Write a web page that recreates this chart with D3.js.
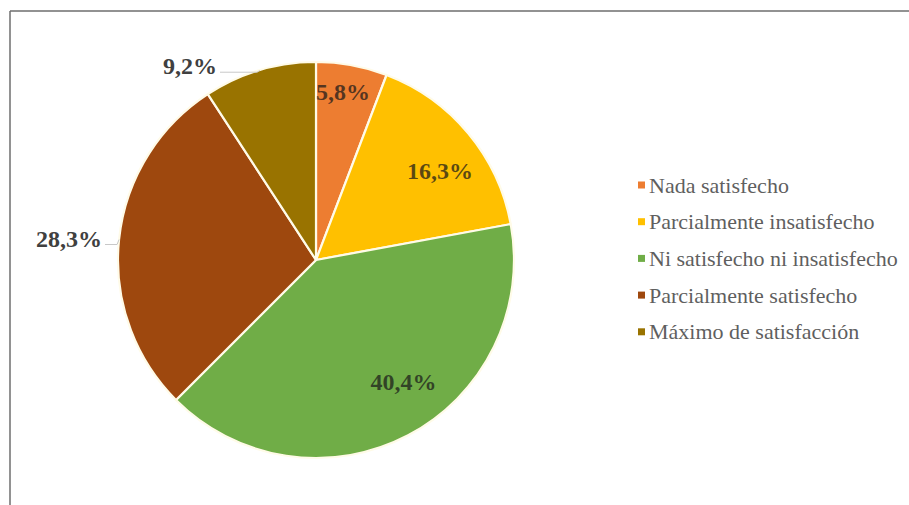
<!DOCTYPE html>
<html>
<head>
<meta charset="utf-8">
<script src="https://cdn.jsdelivr.net/npm/d3@7"></script>
<style>
  html, body { margin: 0; padding: 0; background: #fff; }
  svg { display: block; }
  text { font-family: "Liberation Serif", "Times New Roman", Times, serif; }
</style>
</head>
<body>
<svg id="chart" width="909" height="505"></svg>
<script>
// Satisfaction categories and their shares (%)
const categories = [
  "Nada satisfecho",
  "Parcialmente insatisfecho",
  "Ni satisfecho ni insatisfecho",
  "Parcialmente satisfecho",
  "Máximo de satisfacción"
];
const values = [5.8, 16.3, 40.4, 28.3, 9.2];
const valueLabels = ["5,8%", "16,3%", "40,4%", "28,3%", "9,2%"];
const colors = ["#ED7D31", "#FFC000", "#70AD47", "#9E480E", "#997300"];

// Label placement: radius for inner labels, or "outside" with leader line
const labelLayout = [
  { mode: "inside", r: 170, da: -1.3 },
  { mode: "inside", r: 153, da: 4 },
  { mode: "inside", r: 150, da: -8 },
  { mode: "outside", textX: 102, dy: 5 },
  { mode: "outside", textX: 217, dy: 2 }
];

const svg = d3.select("#chart");
const W = 909, H = 505;
const cx = 316, cy = 260, R = 198;

// Frame (top and left edges)
svg.append("line").attr("x1", 10).attr("y1", 11).attr("x2", W).attr("y2", 11)
  .attr("stroke", "#6e6e6e").attr("stroke-width", 1.5);
svg.append("line").attr("x1", 10).attr("y1", 11).attr("x2", 10).attr("y2", H)
  .attr("stroke", "#6e6e6e").attr("stroke-width", 1.5);

const data = categories.map((c, i) => ({ cat: c, value: values[i], label: valueLabels[i], color: colors[i], lay: labelLayout[i] }));

const pie = d3.pie().value(d => d.value).sort(null);
const arc = d3.arc().innerRadius(0).outerRadius(R);
const arcs = pie(data);

const g = svg.append("g").attr("transform", `translate(${cx},${cy})`);

g.selectAll("path.slice").data(arcs).join("path")
  .attr("class", "slice")
  .attr("d", arc)
  .attr("fill", d => d.data.color)
  .attr("stroke", "#fffbe8")
  .attr("stroke-width", 2.2)
  .attr("stroke-linejoin", "round");

arcs.forEach(a => {
  const lay = a.data.lay;
  const mid = (a.startAngle + a.endAngle) / 2;
  if (lay.mode === "inside") {
    const ang = mid + lay.da * Math.PI / 180;
    const x = Math.sin(ang) * lay.r, y = -Math.cos(ang) * lay.r;
    g.append("text")
      .attr("x", x).attr("y", y)
      .attr("text-anchor", "middle")
      .attr("dominant-baseline", "central")
      .style("font-weight", "bold")
      .style("font-size", "24px")
      .attr("fill", "#1a1a1a").attr("fill-opacity", 0.72)
      .text(a.data.label);
  } else {
    const ex = Math.sin(mid) * R, ey = -Math.cos(mid) * R;
    const ly = ey + lay.dy;
    // leader line from label to the slice edge
    g.append("polyline")
      .attr("points", [[lay.textX - cx + 3, ly], [ex - 2, ly], [ex, ey]].map(p => p.join(",")).join(" "))
      .attr("fill", "none")
      .attr("stroke", "#c8c8c8")
      .attr("stroke-width", 1);
    g.append("text")
      .attr("x", lay.textX - cx).attr("y", ly - 6)
      .attr("text-anchor", "end")
      .attr("dominant-baseline", "central")
      .style("font-weight", "bold")
      .style("font-size", "24px")
      .attr("fill", "#404040")
      .text(a.data.label);
  }
});

// Legend
const legend = svg.append("g").attr("transform", "translate(638,185)");
const rowH = 36.7;
const items = legend.selectAll("g.item").data(data).join("g")
  .attr("class", "item")
  .attr("transform", (d, i) => `translate(0,${i * rowH})`);
items.append("rect")
  .attr("x", 0).attr("y", -3.5).attr("width", 7).attr("height", 7)
  .attr("fill", d => d.color);
items.append("text")
  .attr("x", 11).attr("y", 0)
  .attr("dominant-baseline", "central")
  .style("font-size", "22px")
  .attr("fill", "#5f5f5f")
  .text(d => d.cat);
</script>
</body>
</html>
